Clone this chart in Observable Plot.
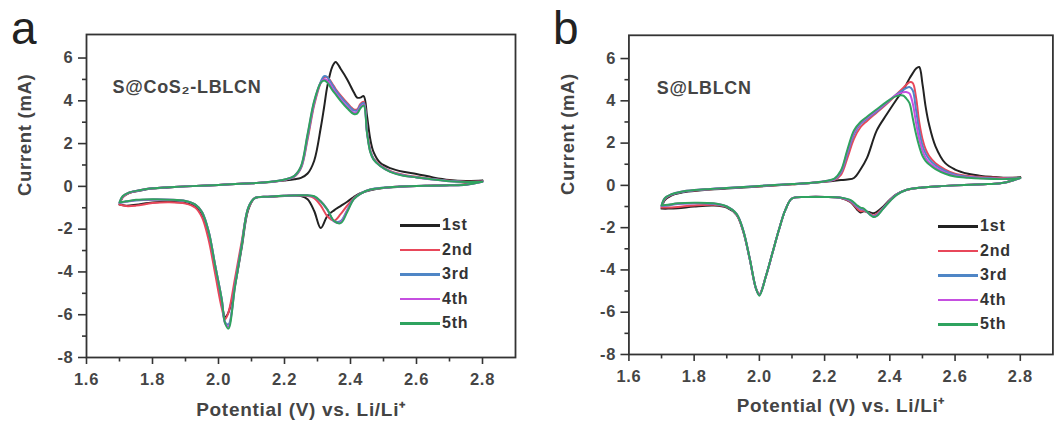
<!DOCTYPE html>
<html>
<head>
<meta charset="utf-8">
<script src="https://cdn.jsdelivr.net/npm/d3@7"></script>
<script src="https://cdn.jsdelivr.net/npm/@observablehq/plot@0.6"></script>
<style>
  html, body { margin: 0; padding: 0; background: #fff; }
  #wrap { position: relative; width: 1054px; height: 430px; overflow: hidden; background: #fff; font-family: "Liberation Sans", Arial, sans-serif; }
  .panel { position: absolute; top: 0; }
  #wrap svg text { letter-spacing: 0.7px; }
  .letter { position: absolute; font-size: 46px; line-height: 46px; color: #222; }
  .leg { position: absolute; font-weight: bold; font-size: 16px; color: #333; letter-spacing: 0.8px; }
  .leg .row { position: absolute; left: 0; white-space: nowrap; height: 20px; }
  .leg .sw { position: absolute; left: 0; top: 9px; width: 40px; height: 2.5px; }
  .leg .tx { position: absolute; left: 42px; top: 0; line-height: 20px; }
</style>
</head>
<body>
<div id="wrap">
  <div id="pa" class="panel" style="left:0"></div>
  <div id="pb" class="panel" style="left:527px"></div>
  <div class="letter" style="left:11px; top:5px">a</div>
  <div class="letter" style="left:553px; top:5px">b</div>
  <div id="lega" class="leg" style="left:400px; top:215px"></div>
  <div id="legb" class="leg" style="left:938px; top:216px"></div>
</div>
<script>
// ---------- labels, colours, ticks ----------
const cycleLabels = ["1st", "2nd", "3rd", "4th", "5th"];
const cycleColors = ["#222222", "#e8475a", "#4f86c6", "#c54fe0", "#2fa35f"];
const xMajorTicks = [1.6, 1.8, 2.0, 2.2, 2.4, 2.6, 2.8];
const xMinorTicks = [1.7, 1.9, 2.1, 2.3, 2.5, 2.7];
const yMajorTicks = [-8, -6, -4, -2, 0, 2, 4, 6];
const yMinorTicks = [-7, -5, -3, -1, 1, 3, 5];
const xTitle = "Potential (V) vs. Li/Li\u207A";
const yTitle = "Current (mA)";
const sampleA = "S@CoS\u2082-LBLCN";
const sampleB = "S@LBLCN";

// ---------- panel a : S@CoS2-LBLCN ----------
// cathodic scan potentials (2.8 V -> 1.7 V)
const potCathA = [2.80, 2.75, 2.70, 2.65, 2.60, 2.55, 2.50, 2.46, 2.43, 2.41, 2.39, 2.37, 2.35, 2.33, 2.31, 2.29, 2.27, 2.25, 2.20, 2.15, 2.11, 2.09, 2.07, 2.05, 2.03, 2.02, 2.01, 1.99, 1.97, 1.95, 1.93, 1.90, 1.85, 1.80, 1.75, 1.72, 1.70];
// anodic scan potentials (1.7 V -> 2.8 V)
const potAnodA = [1.70, 1.71, 1.73, 1.76, 1.80, 1.85, 1.90, 2.00, 2.10, 2.15, 2.20, 2.23, 2.25, 2.27, 2.29, 2.31, 2.32, 2.33, 2.345, 2.355, 2.37, 2.39, 2.41, 2.42, 2.43, 2.44, 2.45, 2.46, 2.47, 2.49, 2.52, 2.56, 2.60, 2.65, 2.70, 2.75, 2.80];

const cathA1 = [0.27, 0.10, 0.06, 0.04, 0.02, -0.02, -0.08, -0.18, -0.32, -0.50, -0.72, -0.92, -1.12, -1.38, -1.95, -1.15, -0.60, -0.45, -0.45, -0.50, -0.55, -1.10, -2.90, -4.60, -5.90, -6.10, -5.50, -3.90, -2.30, -1.35, -0.95, -0.78, -0.72, -0.75, -0.86, -0.90, -0.85];
const cathA2 = [0.24, 0.09, 0.05, 0.03, 0.02, -0.01, -0.07, -0.16, -0.34, -0.55, -0.90, -1.30, -1.60, -1.40, -0.90, -0.55, -0.45, -0.43, -0.44, -0.48, -0.55, -1.05, -2.60, -4.30, -5.90, -6.20, -5.70, -4.10, -2.50, -1.45, -1.00, -0.80, -0.74, -0.78, -0.90, -0.92, -0.85];
const cathA3 = [0.23, 0.08, 0.05, 0.03, 0.02, -0.01, -0.06, -0.15, -0.34, -0.58, -1.10, -1.62, -1.62, -1.10, -0.72, -0.48, -0.42, -0.42, -0.44, -0.48, -0.55, -1.00, -2.75, -4.60, -6.45, -6.35, -5.30, -3.70, -2.10, -1.20, -0.86, -0.69, -0.63, -0.62, -0.66, -0.72, -0.78];
const cathA4 = [0.22, 0.08, 0.05, 0.03, 0.02, -0.01, -0.06, -0.15, -0.35, -0.60, -1.15, -1.68, -1.64, -1.08, -0.70, -0.48, -0.42, -0.42, -0.44, -0.48, -0.55, -1.00, -2.80, -4.68, -6.55, -6.40, -5.30, -3.70, -2.10, -1.20, -0.85, -0.68, -0.62, -0.61, -0.64, -0.71, -0.76];
const cathA5 = [0.22, 0.08, 0.05, 0.03, 0.02, -0.01, -0.06, -0.15, -0.35, -0.60, -1.20, -1.72, -1.62, -1.08, -0.70, -0.46, -0.42, -0.42, -0.44, -0.48, -0.55, -1.00, -2.80, -4.70, -6.65, -6.40, -5.30, -3.70, -2.10, -1.20, -0.85, -0.68, -0.62, -0.60, -0.63, -0.70, -0.75];

const anodA1 = [-0.85, -0.50, -0.30, -0.20, -0.10, -0.05, 0.00, 0.07, 0.15, 0.19, 0.27, 0.33, 0.40, 0.60, 1.20, 2.75, 3.70, 4.70, 5.60, 5.82, 5.50, 5.00, 4.40, 4.15, 4.15, 4.22, 3.30, 2.20, 1.60, 1.10, 0.85, 0.68, 0.58, 0.42, 0.30, 0.25, 0.27];
const anodA2 = [-0.85, -0.50, -0.30, -0.19, -0.09, -0.04, 0.00, 0.07, 0.15, 0.20, 0.30, 0.45, 0.85, 2.20, 3.80, 4.85, 5.10, 5.10, 4.80, 4.55, 4.25, 3.90, 3.60, 3.60, 3.85, 3.95, 2.60, 1.70, 1.30, 1.00, 0.72, 0.54, 0.45, 0.34, 0.26, 0.22, 0.24];
const anodA3 = [-0.78, -0.47, -0.29, -0.19, -0.09, -0.04, 0.00, 0.07, 0.15, 0.20, 0.31, 0.47, 0.88, 2.30, 3.90, 4.90, 5.15, 5.10, 4.75, 4.50, 4.20, 3.85, 3.55, 3.55, 3.80, 3.90, 2.55, 1.65, 1.28, 0.97, 0.70, 0.52, 0.43, 0.33, 0.25, 0.21, 0.23];
const anodA4 = [-0.76, -0.46, -0.28, -0.18, -0.09, -0.04, 0.00, 0.07, 0.15, 0.20, 0.31, 0.49, 0.92, 2.40, 3.95, 4.85, 5.00, 4.95, 4.60, 4.38, 4.08, 3.72, 3.45, 3.47, 3.70, 3.82, 2.52, 1.62, 1.26, 0.96, 0.69, 0.51, 0.42, 0.32, 0.24, 0.20, 0.22];
const anodA5 = [-0.75, -0.45, -0.28, -0.18, -0.09, -0.04, 0.00, 0.07, 0.15, 0.20, 0.32, 0.50, 0.95, 2.45, 4.00, 4.85, 4.95, 4.85, 4.50, 4.30, 4.00, 3.65, 3.38, 3.40, 3.65, 3.78, 2.50, 1.60, 1.25, 0.95, 0.68, 0.50, 0.42, 0.32, 0.24, 0.20, 0.22];

// ---------- panel b : S@LBLCN ----------
const potCathB = [2.80, 2.75, 2.70, 2.65, 2.60, 2.55, 2.50, 2.45, 2.42, 2.40, 2.38, 2.36, 2.35, 2.34, 2.32, 2.31, 2.30, 2.28, 2.25, 2.20, 2.15, 2.10, 2.08, 2.06, 2.04, 2.02, 2.00, 1.99, 1.97, 1.95, 1.93, 1.90, 1.86, 1.80, 1.75, 1.72, 1.70];
const potAnodB = [1.70, 1.71, 1.73, 1.76, 1.80, 1.85, 1.90, 2.00, 2.10, 2.15, 2.20, 2.23, 2.25, 2.27, 2.29, 2.31, 2.33, 2.36, 2.39, 2.42, 2.44, 2.45, 2.46, 2.47, 2.48, 2.49, 2.50, 2.51, 2.52, 2.54, 2.57, 2.60, 2.64, 2.68, 2.72, 2.76, 2.80];

const cathB1 = [0.38, 0.13, 0.06, 0.03, 0.00, -0.04, -0.10, -0.22, -0.42, -0.68, -1.00, -1.25, -1.32, -1.28, -1.22, -1.28, -1.15, -0.80, -0.60, -0.55, -0.55, -0.62, -1.15, -2.10, -3.20, -4.30, -5.15, -4.90, -3.45, -2.15, -1.40, -1.05, -0.95, -1.00, -1.08, -1.10, -1.10];
const cathB2 = [0.36, 0.12, 0.06, 0.03, 0.00, -0.04, -0.10, -0.22, -0.43, -0.70, -1.05, -1.35, -1.42, -1.35, -1.20, -1.22, -1.10, -0.78, -0.60, -0.55, -0.55, -0.62, -1.15, -2.10, -3.20, -4.30, -5.15, -4.90, -3.45, -2.15, -1.38, -1.02, -0.92, -0.95, -1.02, -1.05, -1.05];
const cathB3 = [0.35, 0.12, 0.06, 0.03, 0.00, -0.04, -0.10, -0.22, -0.44, -0.72, -1.07, -1.40, -1.46, -1.38, -1.15, -1.12, -1.02, -0.74, -0.59, -0.55, -0.55, -0.62, -1.15, -2.10, -3.20, -4.30, -5.18, -4.90, -3.45, -2.12, -1.36, -1.00, -0.88, -0.85, -0.88, -0.95, -0.98];
const cathB4 = [0.35, 0.12, 0.06, 0.03, 0.00, -0.04, -0.10, -0.22, -0.45, -0.74, -1.09, -1.43, -1.48, -1.39, -1.12, -1.08, -0.98, -0.72, -0.58, -0.55, -0.55, -0.62, -1.15, -2.10, -3.20, -4.30, -5.20, -4.90, -3.42, -2.10, -1.35, -1.00, -0.86, -0.84, -0.86, -0.93, -0.97];
const cathB5 = [0.35, 0.12, 0.06, 0.03, 0.00, -0.04, -0.10, -0.22, -0.46, -0.75, -1.10, -1.45, -1.50, -1.40, -1.10, -1.05, -0.95, -0.70, -0.58, -0.55, -0.55, -0.62, -1.15, -2.10, -3.20, -4.30, -5.22, -4.90, -3.42, -2.10, -1.35, -1.00, -0.85, -0.82, -0.85, -0.92, -0.95];

const anodB1 = [-1.10, -0.70, -0.48, -0.35, -0.27, -0.20, -0.15, -0.05, 0.05, 0.10, 0.17, 0.22, 0.25, 0.28, 0.35, 0.75, 1.30, 2.60, 3.35, 4.05, 4.50, 4.75, 5.05, 5.30, 5.52, 5.60, 4.80, 3.70, 2.90, 1.85, 1.05, 0.75, 0.55, 0.45, 0.40, 0.36, 0.38];
const anodB2 = [-1.05, -0.65, -0.45, -0.32, -0.24, -0.18, -0.13, -0.04, 0.05, 0.10, 0.18, 0.26, 0.50, 1.30, 2.20, 2.75, 3.05, 3.45, 3.85, 4.30, 4.60, 4.75, 4.88, 4.85, 4.20, 3.00, 2.20, 1.70, 1.40, 1.05, 0.75, 0.55, 0.45, 0.40, 0.37, 0.35, 0.36];
const anodB3 = [-0.98, -0.62, -0.44, -0.31, -0.23, -0.17, -0.12, -0.03, 0.06, 0.10, 0.19, 0.28, 0.60, 1.50, 2.40, 2.90, 3.15, 3.50, 3.90, 4.30, 4.50, 4.60, 4.65, 4.50, 3.60, 2.60, 1.90, 1.50, 1.25, 0.95, 0.68, 0.50, 0.41, 0.36, 0.33, 0.32, 0.35];
const anodB4 = [-0.97, -0.61, -0.43, -0.30, -0.22, -0.17, -0.12, -0.03, 0.06, 0.11, 0.20, 0.29, 0.65, 1.60, 2.50, 2.95, 3.20, 3.55, 3.92, 4.28, 4.40, 4.42, 4.35, 3.90, 3.00, 2.20, 1.65, 1.30, 1.10, 0.85, 0.60, 0.46, 0.38, 0.34, 0.31, 0.31, 0.35];
const anodB5 = [-0.95, -0.60, -0.42, -0.30, -0.22, -0.17, -0.12, -0.03, 0.06, 0.11, 0.20, 0.32, 0.70, 1.70, 2.60, 3.00, 3.25, 3.60, 3.95, 4.22, 4.25, 4.12, 3.90, 3.20, 2.45, 1.85, 1.40, 1.15, 1.00, 0.77, 0.55, 0.42, 0.36, 0.32, 0.30, 0.30, 0.35];

// ---------- build tables ----------
function loopRows(potC, potA, cathList, anodList) {
  const rows = [];
  cycleLabels.forEach((label, k) => {
    potC.forEach((v, i) => rows.push({cycle: label, V: v, I: cathList[k][i]}));
    potA.forEach((v, i) => rows.push({cycle: label, V: v, I: anodList[k][i]}));
  });
  return rows;
}
const rowsA = loopRows(potCathA, potAnodA, [cathA1, cathA2, cathA3, cathA4, cathA5], [anodA1, anodA2, anodA3, anodA4, anodA5]);
const rowsB = loopRows(potCathB, potAnodB, [cathB1, cathB2, cathB3, cathB4, cathB5], [anodB1, anodB2, anodB3, anodB4, anodB5]);

const axisColor = "#333";
const labelFill = "#454545";
const xFmt = d => d.toFixed(1);
const yFmt = d => String(d);
const tickFont = 16.5;

function panel(rows, sample, cfg) {
  return Plot.plot({
    width: cfg.width,
    height: 430,
    marginLeft: cfg.marginLeft,
    marginRight: cfg.marginRight,
    marginTop: cfg.marginTop,
    marginBottom: cfg.marginBottom,
    style: {fontFamily: "'Liberation Sans', Arial, sans-serif", fontWeight: "bold", background: "transparent", overflow: "visible"},
    x: {domain: [1.6, 2.9]},
    y: {domain: [-8, 7.1]},
    color: {domain: cycleLabels, range: cycleColors},
    marks: [
      Plot.line(rows, {x: "V", y: "I", z: "cycle", stroke: "cycle", strokeWidth: 2, curve: "catmull-rom"}),
      Plot.frame({stroke: axisColor, strokeWidth: 1.8}),
      Plot.axisX(xMajorTicks, {tickSize: 7, tickFormat: () => "", stroke: axisColor, strokeWidth: 1.6, label: null}),
      Plot.axisX(xMinorTicks, {tickSize: 4.5, tickFormat: () => "", stroke: axisColor, strokeWidth: 1.6, label: null}),
      Plot.axisY(yMajorTicks, {tickSize: 8, tickFormat: () => "", stroke: axisColor, strokeWidth: 1.6, label: null}),
      Plot.axisY(yMinorTicks, {tickSize: 4, tickFormat: () => "", stroke: axisColor, strokeWidth: 1.6, label: null}),
      // tick labels
      Plot.text(xMajorTicks, {x: d => d, text: xFmt, frameAnchor: "bottom", lineAnchor: "middle", dy: 22, fontSize: tickFont, fontWeight: "bold", fill: labelFill}),
      Plot.text(yMajorTicks, {y: d => d, text: yFmt, frameAnchor: "left", textAnchor: "end", dx: -13, fontSize: tickFont, fontWeight: "bold", fill: labelFill}),
      Plot.text([sample], {frameAnchor: "top-left", textAnchor: "start", dx: cfg.sampleDx, dy: 46, fontSize: 18, fontWeight: "bold", fill: "#444"}),
      Plot.text([xTitle], {frameAnchor: "bottom", dy: 58, fontSize: 19, fontWeight: "bold", fill: "#444"}),
      Plot.text([yTitle], {frameAnchor: "left", dx: -61, rotate: -90, fontSize: 18.5, fontWeight: "bold", fill: "#444"})
    ]
  });
}

document.getElementById("pa").append(panel(rowsA, sampleA, {width: 527, marginLeft: 86, marginRight: 12, marginTop: 34, marginBottom: 73, sampleDx: 26}));
document.getElementById("pb").append(panel(rowsB, sampleB, {width: 530, marginLeft: 102, marginRight: 1.6, marginTop: 35, marginBottom: 74, sampleDx: 28}));

// ---------- legends ----------
function legend(id, spacing) {
  const host = d3.select("#" + id);
  cycleLabels.forEach((label, k) => {
    const row = host.append("div").attr("class", "row").style("top", (k * spacing) + "px");
    row.append("div").attr("class", "sw").style("background", cycleColors[k]);
    row.append("div").attr("class", "tx").text(label);
  });
}
legend("lega", 24.6);
legend("legb", 24.6);
</script>
</body>
</html>
